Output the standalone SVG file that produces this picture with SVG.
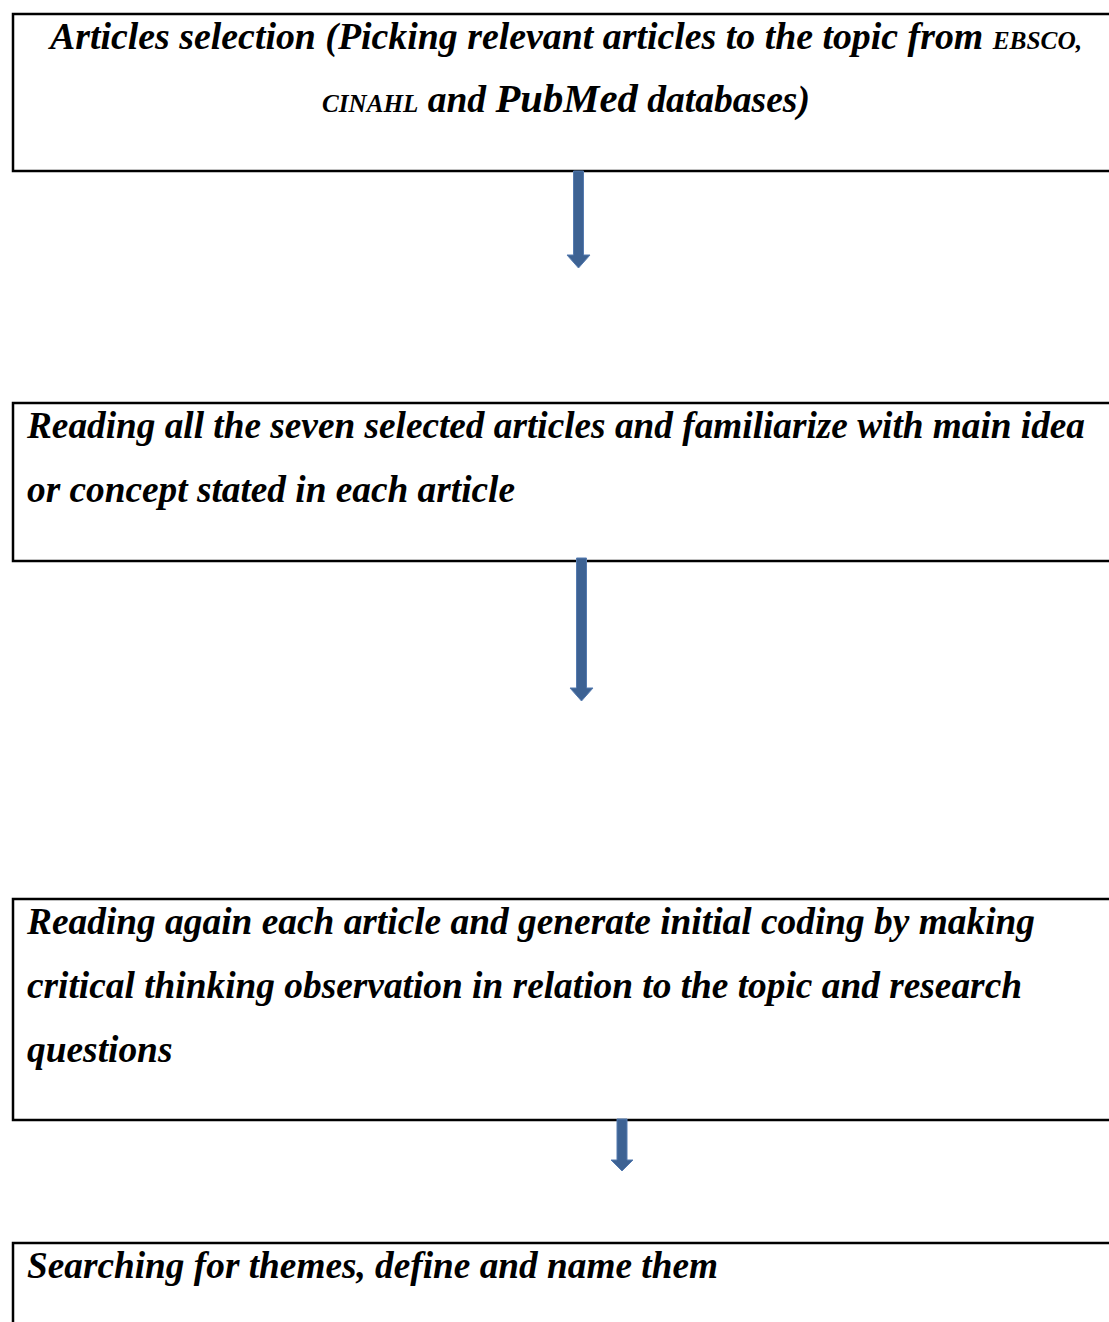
<svg xmlns="http://www.w3.org/2000/svg" width="1109" height="1322" viewBox="0 0 1109 1322">
<style>
.box{fill:#fff;stroke:#000;stroke-width:2.5}
.t{font-family:"Liberation Serif","Times New Roman",serif;font-weight:bold;font-style:italic;font-size:37.4px;fill:#000}
.sm{font-size:25px}
.lg{font-size:40.5px}
.arr{fill:#3D6293;stroke:#557BB0;stroke-width:1}
</style>
<rect width="1109" height="1322" fill="#fff"/>
<g id="node1">
<rect class="box" x="13" y="14" width="1110" height="157"/>
<text class="t" x="50" y="49" textLength="1032" lengthAdjust="spacingAndGlyphs">Articles selection (Picking relevant articles to the topic from <tspan class="sm">EBSCO,</tspan></text>
<text class="t" x="322" y="112" textLength="488" lengthAdjust="spacingAndGlyphs"><tspan class="sm">CINAHL</tspan> and <tspan class="lg">PubMed</tspan> databases)</text>
</g>
<g id="node2">
<rect class="box" x="13" y="403" width="1110" height="158"/>
<text class="t" x="27" y="438" textLength="1058" lengthAdjust="spacingAndGlyphs">Reading all the seven selected articles and familiarize with main idea</text>
<text class="t" x="27" y="502" textLength="488" lengthAdjust="spacingAndGlyphs">or concept stated in each article</text>
</g>
<g id="node3">
<rect class="box" x="13" y="899" width="1110" height="221"/>
<text class="t" x="27" y="934" textLength="1008" lengthAdjust="spacingAndGlyphs">Reading again each article and generate initial coding by making</text>
<text class="t" x="27" y="998" textLength="995" lengthAdjust="spacingAndGlyphs">critical thinking observation in relation to the topic and research</text>
<text class="t" x="27" y="1062">questions</text>
</g>
<g id="node4">
<rect class="box" x="13" y="1243" width="1110" height="100"/>
<text class="t" x="27" y="1278" textLength="691" lengthAdjust="spacingAndGlyphs">Searching for themes, define and name them</text>
</g>
<g id="connectors">
<path class="arr" d="M573.5 171 H583.5 V255 H590 L578.5 268 L567 255 H573.5 Z"/>
<path class="arr" d="M576.5 558 H586.5 V688 H593 L581.5 701 L570 688 H576.5 Z"/>
<path class="arr" d="M617 1119 H627 V1160 H633 L622 1171 L611 1160 H617 Z"/>
</g>
</svg>
